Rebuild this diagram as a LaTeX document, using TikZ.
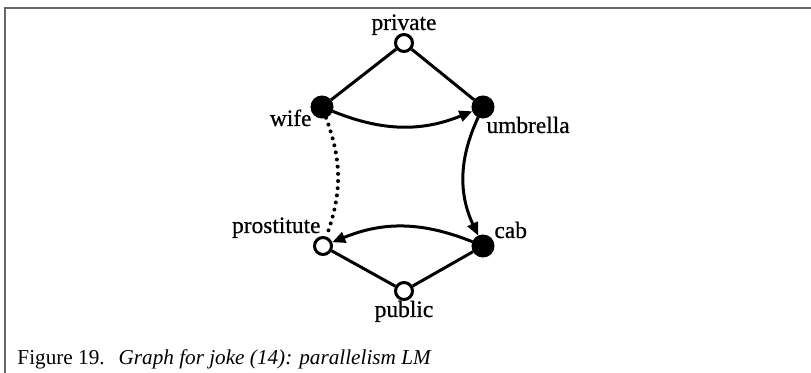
\documentclass[tikz,border=0pt]{standalone}
\usepackage{fontspec}
\setmainfont{Liberation Serif}
\newfontfamily\labelfont[FakeBold=0.7]{Liberation Serif}
\usetikzlibrary{arrows.meta}

\begin{document}
\begin{tikzpicture}[x=0.5pt,y=-0.5pt,
		line width=1.5pt,
		open/.style={circle,draw,fill=white,minimum size=8.5pt,inner sep=0pt},
		full/.style={circle,draw,fill=black,minimum size=10pt,inner sep=0pt},
		word/.style={inner sep=0pt,font=\labelfont\fontsize{11.7}{13}\selectfont},
		link/.style={-{Triangle[length=6.5pt,width=5.5pt]}}]
			\useasboundingbox (0,0) rectangle (811,373);
			\draw [gray!80!black,line width=1pt] (5,373) -- (5,8) -- (811,8);
			% the six concepts
			\node[open] (private) at (404,43) {};
			\node[full] (wife) at (322,107) {};
			\node[full] (umbrella) at (483,107) {};
			\node[open] (prostitute) at (323,246) {};
			\node[full] (cab) at (483,246) {};
			\node[open] (public) at (404,291) {};
			% their names
			\node[word,anchor=base] (privatetext) at (404,30) {private};
			\node[word,anchor=base east] (wifetext) at (313,126) {wife};
			\node[word,anchor=base west] (umbrellatext) at (485,133) {umbrella};
			\node[word,anchor=base east] (prostitutetext) at (322,233) {prostitute};
			\node[word,anchor=base west] (cabtext) at (493,238) {cab};
			\node[word,anchor=base] (publictext) at (404,317) {public};
			% links
			\draw (wife) -- (private) -- (umbrella);
			\draw (prostitute) -- (public) -- (cab);
			\draw [link] (wife) to[bend right=22] (umbrella);
			\draw [link] (umbrella) to[bend right=25] (cab);
			\draw [link] (cab) to[bend right=22] (prostitute);
			\draw [line width=2pt,line cap=round,dash pattern=on 0pt off 3.6pt] (wife) to[bend left=20] (prostitute);
			% caption
			\node[inner sep=0pt,anchor=base west,font=\fontsize{10.6}{12}\selectfont] (caption) at (16,365)
				{Figure 19.\hspace{7pt}\textit{Graph for joke (14): parallelism LM}};
		\end{tikzpicture}
\end{document}
